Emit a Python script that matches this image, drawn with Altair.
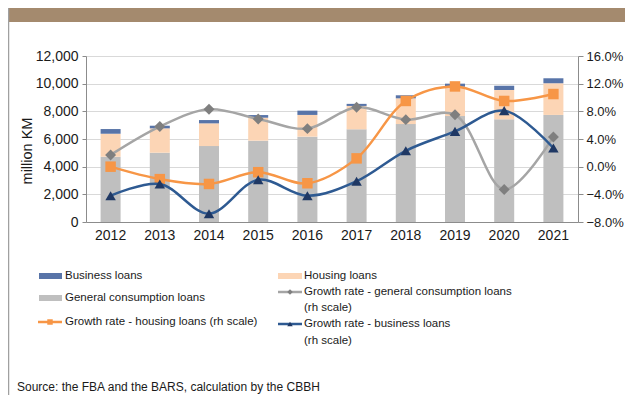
import altair as alt
import pandas as pd

years = ["2012", "2013", "2014", "2015", "2016", "2017", "2018", "2019", "2020", "2021"]
general = [4720, 5010, 5490, 5880, 6170, 6700, 7080, 7660, 7420, 7740]
housing = [1660, 1760, 1640, 1660, 1570, 1690, 1860, 2120, 2120, 2290]
business = [340, 190, 240, 190, 310, 150, 220, 220, 310, 360]
gr_general = [1.7, 5.8, 8.3, 6.9, 5.5, 8.6, 6.8, 7.5, -3.3, 4.3]
gr_housing = [0.0, -1.8, -2.5, -0.8, -2.4, 1.2, 9.5, 11.6, 9.5, 10.5]
gr_business = [-4.2, -2.5, -6.8, -1.9, -4.2, -2.1, 2.3, 5.1, 8.1, 2.7]

bar_series = ["General consumption loans", "Housing loans", "Business loans"]
bar_colors = ["#BFBFBF", "#FCD5B5", "#5874A8"]

rows = []
for i, y in enumerate(years):
    for k, (name, vals) in enumerate(zip(bar_series, [general, housing, business])):
        rows.append({"year": y, "series": name, "value": vals[i], "ord": k})
bars_df = pd.DataFrame(rows)

gr_rows = []
for name, vals in [("gen", gr_general), ("hou", gr_housing), ("bus", gr_business)]:
    for i, y in enumerate(years):
        gr_rows.append({"year": y, "series": name, "rate": vals[i]})
gr_df = pd.DataFrame(gr_rows)

FONT = "Liberation Sans"
LEG_FONT = "Liberation Sans"
W, H = 492, 166

x_scale = alt.Scale(domain=years, paddingInner=0, paddingOuter=0)
x_enc = alt.X(
    "year:N",
    scale=x_scale,
    axis=alt.Axis(title=None, ticks=False, labelAngle=0, labelFont=FONT, labelFontSize=14,
                  labelColor="#1a1a1a", labelPadding=6, domainColor="#8C8C8C", grid=False),
)

bars = alt.Chart(bars_df).mark_bar(size=20).encode(
    x=x_enc,
    y=alt.Y("value:Q", stack="zero",
            scale=alt.Scale(domain=[0, 12000], nice=False),
            axis=alt.Axis(orient="left", values=[0, 2000, 4000, 6000, 8000, 10000, 12000],
                          labelExpr="format(datum.value, ',')",
                          title=None, grid=True, gridColor="#D9D9D9", tickSize=4, tickColor="#8C8C8C",
                          domainColor="#8C8C8C", labelFont=FONT, labelFontSize=14, labelColor="#1a1a1a",
                          labelPadding=4)),
    color=alt.Color("series:N", scale=alt.Scale(domain=bar_series, range=bar_colors), legend=None),
    order=alt.Order("ord:Q"),
)

yr_scale = alt.Scale(domain=[-8, 16], nice=False)
yr_axis = alt.Axis(orient="right", values=[-8, -4, 0, 4, 8, 12, 16],
                   labelExpr="format(datum.value, '.1f') + '%'", title=None, grid=False,
                   tickSize=5, tickColor="#8C8C8C", domainColor="#8C8C8C", labelFont=FONT,
                   labelFontSize=13, labelColor="#1a1a1a", labelPadding=3)


def series_layers(key, line_color, pt_color, shape, size):
    base = alt.Chart(gr_df).transform_filter(alt.datum.series == key)
    ln = base.mark_line(color=line_color, strokeWidth=2.5, interpolate="catmull-rom").encode(
        x=alt.X("year:N", scale=x_scale),
        y=alt.Y("rate:Q", scale=yr_scale, axis=yr_axis),
    )
    pt = base.mark_point(shape=shape, filled=True, opacity=1, size=size, color=pt_color).encode(
        x=alt.X("year:N", scale=x_scale),
        y=alt.Y("rate:Q", scale=yr_scale, axis=yr_axis),
    )
    return [ln, pt]


lines = alt.layer(
    *series_layers("gen", "#A5A5A5", "#7F7F7F", "diamond", 120),
    *series_layers("hou", "#F79646", "#F79646", "square", 110),
    *series_layers("bus", "#2E5A92", "#1F3864", "triangle-up", 110),
)

main = alt.layer(bars, lines).resolve_scale(y="independent")

one = pd.DataFrame({"a": [0]})


def txt(s, x, y, size=11.5, font=LEG_FONT, angle=0, align="left"):
    return alt.Chart(one).mark_text(text=s, font=font, fontSize=size, align=align, baseline="middle",
                                    color="#1a1a1a", angle=angle).encode(x=alt.value(x), y=alt.value(y))


def swatch(x1, x2, y, color, w=6):
    return alt.Chart(one).mark_rule(color=color, strokeWidth=w).encode(
        x=alt.value(x1), x2=alt.value(x2), y=alt.value(y))


def marker(x, y, shape, color, size):
    return alt.Chart(one).mark_point(shape=shape, filled=True, opacity=1, color=color, size=size).encode(
        x=alt.value(x), y=alt.value(y))


header = alt.Chart(one).mark_rect(color="#A48A6E").encode(
    x=alt.value(-78), x2=alt.value(539), y=alt.value(-48), y2=alt.value(-34))
border = alt.Chart(one).mark_rule(color="#A0A0A0", strokeWidth=1.5).encode(
    x=alt.value(-77.5), y=alt.value(-48), y2=alt.value(339))

annotations = [
    header, border,
    txt("million KM", -58, 95, size=14.5, font=FONT, angle=270, align="center"),
    swatch(-47, -24, 220, "#5874A8"),
    txt("Business loans", -21, 220),
    swatch(-47, -24, 242, "#BFBFBF"),
    txt("General consumption loans", -21, 242),
    swatch(-48, -24, 266, "#F79646", w=2.5),
    marker(-36, 266, "square", "#F79646", 30),
    txt("Growth rate - housing loans (rh scale)", -21, 266),
    swatch(192, 216, 220, "#FCD5B5"),
    txt("Housing loans", 218, 220),
    swatch(192, 216, 236, "#A5A5A5", w=2.5),
    marker(204, 236, "diamond", "#7F7F7F", 30),
    txt("Growth rate - general consumption loans", 218, 236),
    txt("(rh scale)", 218, 252),
    swatch(192, 216, 268, "#2E5A92", w=2.5),
    marker(204, 268, "triangle-up", "#1F3864", 30),
    txt("Growth rate - business loans", 218, 268),
    txt("(rh scale)", 218, 285),
    txt("Source: the FBA and the BARS, calculation by the CBBH", -69, 331, size=12, font=FONT),
]

chart = alt.layer(main, *annotations).properties(
    width=W, height=H,
    autosize=alt.AutoSizeParams(type="none"),
    padding={"left": 78, "top": 48, "right": 47, "bottom": 173},
).configure_view(stroke=None)

chart.save("out.html", embed_options={"renderer": "svg", "actions": False})
